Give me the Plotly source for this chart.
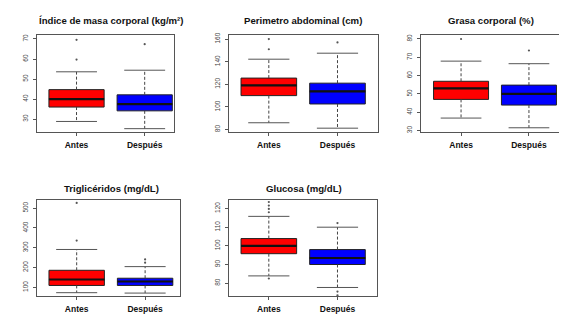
import plotly.graph_objects as go

groups = ["Antes", "Después"]

# Índice de masa corporal (kg/m²)
imc_low = [28.8, 25.2]
imc_q1 = [36.0, 34.1]
imc_med = [40.0, 37.5]
imc_q3 = [44.7, 42.1]
imc_high = [53.6, 54.4]
imc_out = [[59.7, 69.6], [67.4]]
imc_ticks = [30, 40, 50, 60, 70]

# Perímetro abdominal (cm)
pa_low = [86.0, 81.2]
pa_q1 = [110.0, 102.6]
pa_med = [119.0, 113.8]
pa_q3 = [125.5, 121.0]
pa_high = [142.2, 147.5]
pa_out = [[151.0, 160.0], [157.0]]
pa_ticks = [80, 100, 120, 140, 160]

# Grasa corporal (%)
gc_low = [36.8, 31.5]
gc_q1 = [47.0, 43.9]
gc_med = [53.0, 50.0]
gc_q3 = [56.9, 54.8]
gc_high = [67.9, 66.5]
gc_out = [[80.0], [73.7]]
gc_ticks = [30, 40, 50, 60, 70, 80]

# Triglicéridos (mg/dL)
tg_low = [73.5, 71.5]
tg_q1 = [110.0, 110.0]
tg_med = [140.0, 130.0]
tg_q3 = [186.5, 146.5]
tg_high = [291.5, 205.0]
tg_out = [[336.5, 526.5], [225.0, 241.5]]
tg_ticks = [100, 200, 300, 400, 500]

# Glucosa (mg/dL)
gl_low = [83.9, 77.7]
gl_q1 = [95.8, 90.0]
gl_med = [100.0, 93.5]
gl_q3 = [103.9, 98.0]
gl_high = [115.8, 110.0]
gl_out = [[82.5, 118.0, 119.8, 121.6, 123.5], [73.5, 75.5, 112.2]]
gl_ticks = [80, 90, 100, 110, 120]

titles = [
    "Índice de masa corporal (kg/m²)",
    "Perimetro abdominal (cm)",
    "Grasa corporal (%)",
    "Triglicéridos (mg/dL)",
    "Glucosa (mg/dL)",
]

panels = [
    dict(low=imc_low, q1=imc_q1, med=imc_med, q3=imc_q3, high=imc_high, out=imc_out, ticks=imc_ticks),
    dict(low=pa_low, q1=pa_q1, med=pa_med, q3=pa_q3, high=pa_high, out=pa_out, ticks=pa_ticks),
    dict(low=gc_low, q1=gc_q1, med=gc_med, q3=gc_q3, high=gc_high, out=gc_out, ticks=gc_ticks),
    dict(low=tg_low, q1=tg_q1, med=tg_med, q3=tg_q3, high=tg_high, out=tg_out, ticks=tg_ticks),
    dict(low=gl_low, q1=gl_q1, med=gl_med, q3=gl_q3, high=gl_high, out=gl_out, ticks=gl_ticks),
]

# layout (pixel boxes of each plot area: left, right, top, bottom)
W, H = 567, 327
boxes = [
    (29, 166, 25, 123),
    (221, 370, 25, 122.7),
    (413, 561, 25, 123.3),
    (29, 172, 191.7, 288.7),
    (221, 369.3, 191.7, 288.7),
]
xranges = [(0.42, 2.43), (0.42, 2.59), (0.41, 2.59), (0.42, 2.51), (0.42, 2.58)]
yranges = [(23.6, 72.1), (78.2, 163.8), (29.1, 82.3), (56.5, 541.5), (73.1, 124.6)]
title_pos = [(102.5, 11), (295.3, 11), (483, 11), (103, 180), (295.5, 180)]

colors = ["#FF0000", "#0000FF"]
bw = 0.81   # box width in x units
cw = 0.30   # half cap width
font = "Liberation Sans, Arial, sans-serif"

fig = go.Figure()
layout = dict(
    width=W, height=H, margin=dict(l=0, r=0, t=0, b=0),
    paper_bgcolor="white", plot_bgcolor="white", showlegend=False,
    font=dict(family=font, color="#222"),
)
annotations = []

for i, p in enumerate(panels):
    n = "" if i == 0 else str(i + 1)
    xa, ya = "x" + n, "y" + n
    for g in range(2):
        pos = g + 1
        fig.add_trace(go.Box(
            x=[pos], q1=[p["q1"][g]], median=[p["med"][g]], q3=[p["q3"][g]],
            lowerfence=[p["q1"][g]], upperfence=[p["q3"][g]],
            width=bw, fillcolor=colors[g], line=dict(color="#222", width=1),
            whiskerwidth=0, boxpoints=False, xaxis=xa, yaxis=ya, hoverinfo="skip",
        ))
        # median (thick)
        fig.add_trace(go.Scatter(
            x=[pos - bw / 2, pos + bw / 2], y=[p["med"][g], p["med"][g]],
            mode="lines", line=dict(color="#111", width=2.2), xaxis=xa, yaxis=ya, hoverinfo="skip",
        ))
        # dashed whiskers
        fig.add_trace(go.Scatter(
            x=[pos, pos, None, pos, pos],
            y=[p["q3"][g], p["high"][g], None, p["q1"][g], p["low"][g]],
            mode="lines", line=dict(color="#444", width=1, dash="3px,2px"),
            xaxis=xa, yaxis=ya, hoverinfo="skip",
        ))
        # staples
        fig.add_trace(go.Scatter(
            x=[pos - cw, pos + cw, None, pos - cw, pos + cw],
            y=[p["high"][g], p["high"][g], None, p["low"][g], p["low"][g]],
            mode="lines", line=dict(color="#555", width=1),
            xaxis=xa, yaxis=ya, hoverinfo="skip",
        ))
        # outliers
        fig.add_trace(go.Scatter(
            x=[pos] * len(p["out"][g]), y=p["out"][g], mode="markers",
            marker=dict(color="#555", size=2.2), xaxis=xa, yaxis=ya, hoverinfo="skip",
        ))

    l, r, t, b = boxes[i]
    layout["xaxis" + n] = dict(
        domain=[l / W, r / W], range=list(xranges[i]), anchor=ya,
        tickvals=[1, 2], ticktext=["<b>%s</b>" % s for s in groups],
        ticks="outside", ticklen=3, tickcolor="#555", ticklabelstandoff=2,
        tickfont=dict(size=8.5, color="#111", family=font),
        showline=True, mirror=True, linecolor="#555", linewidth=1,
        showgrid=False, zeroline=False, fixedrange=True,
    )
    layout["yaxis" + n] = dict(
        domain=[1 - b / H, 1 - t / H], range=list(yranges[i]), anchor=xa,
        tickvals=p["ticks"], tickangle=-90,
        ticks="outside", ticklen=3, tickcolor="#555", ticklabelstandoff=2,
        tickfont=dict(size=6.5, color="#444", family=font),
        showline=True, mirror=True, linecolor="#555", linewidth=1,
        showgrid=False, zeroline=False, fixedrange=True,
    )
    tx, ty = title_pos[i]
    annotations.append(dict(
        text="<b>%s</b>" % titles[i], x=tx / W, y=1 - ty / H, xref="paper", yref="paper",
        xanchor="center", yanchor="middle", showarrow=False,
        font=dict(size=9.6, color="#111", family=font),
    ))

layout["annotations"] = annotations
fig.update_layout(**layout)
fig.write_html("out.html")
